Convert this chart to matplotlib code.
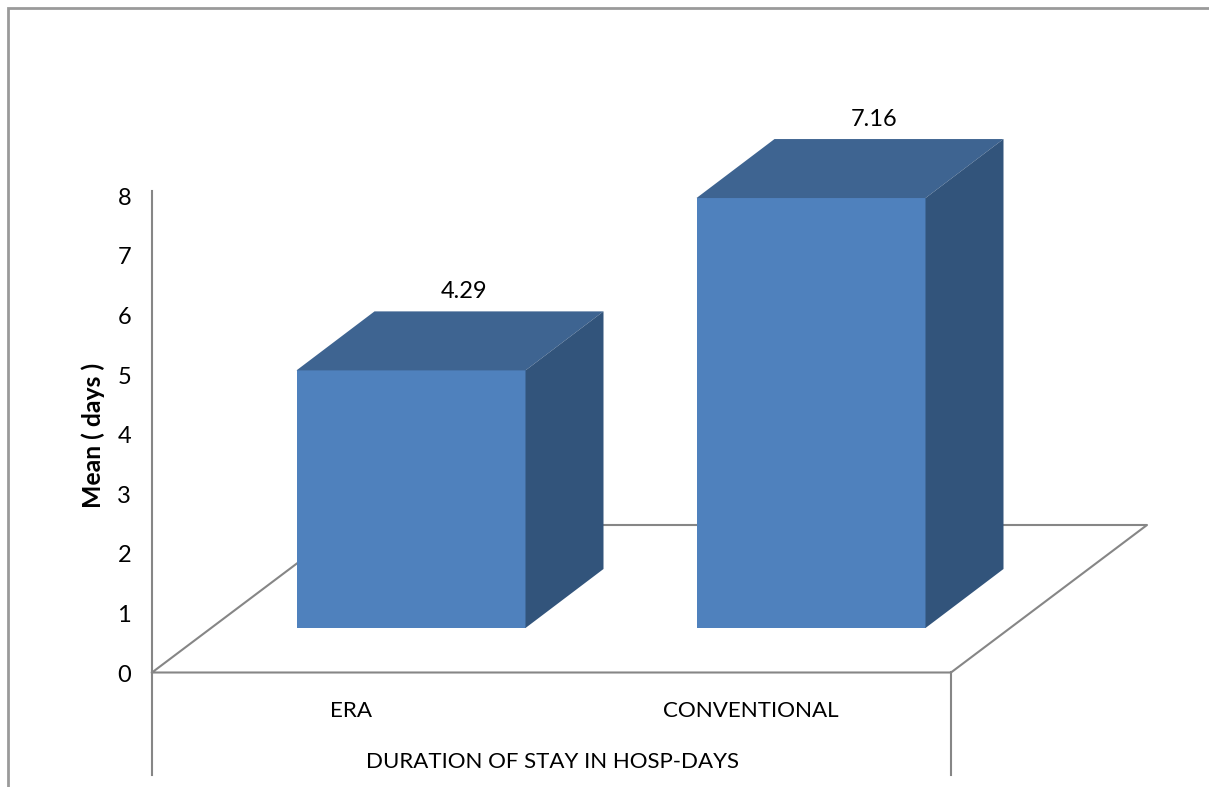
#!/usr/bin/env python3
"""
Duration of hospital stay, ERA vs conventional - pseudo 3D bars
"""

import numpy as np
import matplotlib
matplotlib.use('Agg')
import matplotlib.pyplot as plt
from matplotlib.patches import Polygon

plt.rcParams['font.family'] = ['Lato', 'DejaVu Sans']

categories = ['ERA', 'CONVENTIONAL']
means = [4.29, 7.16]
value_ticks = [0, 1, 2, 3, 4, 5, 6, 7, 8]

W, H = 1209, 787
FRONT = '#4F81BD'
TOP = '#3E6491'
SIDE = '#32547B'
LINE = '#868686'

fig = plt.figure(figsize=(W / 100, H / 100), dpi=100, facecolor='white')

# Main axes fills the figure: 1 x unit = one category step (400 px), 1 y unit = 60 px
px_x, px_y = 400.0, 60.05
x0_px, y0_px = 411.0, 672.0
ax = fig.add_axes([0, 0, 1, 1])
ax.set_xlim(-x0_px / px_x, (W - x0_px) / px_x)
ax.set_ylim((y0_px - H) / px_y, y0_px / px_y)
ax.axis('off')


def fx(p):
    return (p - x0_px) / px_x


def fy(p):
    return (y0_px - p) / px_y


# Outer frame
ax.plot([fx(8), fx(8), fx(W)], [fy(H), fy(8), fy(8)], color='#9A9A9A', lw=2.0, zorder=1, solid_joinstyle='miter')

# Floor of the 3D box and the drops below it
ax.plot([fx(152), fx(951), fx(1147), fx(348), fx(152)],
        [fy(672.5), fy(672.5), fy(525), fy(525), fy(672.5)], color=LINE, lw=1.5, zorder=1)
ax.plot([fx(152), fx(152)], [fy(672), fy(775)], color=LINE, lw=1.5, zorder=1)
ax.plot([fx(951), fx(951)], [fy(672), fy(775)], color=LINE, lw=1.5, zorder=1)

# Bars: front face plus top and side polygons
xs = np.arange(len(categories))
bar_w = 229 / px_x
base = fy(628)
dx, dy = 78 / px_x, 59 / px_y
label_shift = [53, 63]
ax.bar(xs, means, width=bar_w, bottom=base, color=FRONT, zorder=3)
for x, m, shift in zip(xs, means, label_shift):
    left, right = x - bar_w / 2, x + bar_w / 2
    top = base + m
    ax.add_patch(Polygon([(left, top), (right, top), (right + dx, top + dy), (left + dx, top + dy)],
                         closed=True, facecolor=TOP, edgecolor='none', zorder=3))
    ax.add_patch(Polygon([(right, base), (right + dx, base + dy), (right + dx, top + dy), (right, top)],
                         closed=True, facecolor=SIDE, edgecolor='none', zorder=3))
    ax.annotate(f'{m:.2f}', (x + shift / px_x, top + dy), xytext=(0, 9), textcoords='offset pixels',
                ha='center', va='bottom', fontsize=17, color='black', zorder=4)

# Category labels sit left of the bar centres, in the middle of each floor slot
for x, name in zip(xs, categories):
    ax.text(x - 0.15, fy(711), name, ha='center', va='center', fontsize=16.1, color='black')

ax.text(fx(552), fy(762), 'DURATION OF STAY IN HOSP-DAYS', ha='center', va='center', fontsize=16, color='black')
ax.text(fx(93), fy(435), 'Mean ( days )', rotation=90, ha='center', va='center', fontsize=17.8,
        fontweight='bold', color='black')

# Value axis is on its own axes, its labels run on a slightly tighter step than the bars
ax_y = fig.add_axes([152 / W, (H - 673) / H, 0.001, (673 - 191) / H])
ax_y.patch.set_alpha(0)
ax_y.set_ylim(0, (673 - 191) / 59.6)
ax_y.set_yticks(value_ticks)
ax_y.set_xticks([])
ax_y.tick_params(axis='y', length=0, pad=15, labelsize=17)
for side in ['top', 'right', 'bottom']:
    ax_y.spines[side].set_visible(False)
ax_y.spines['left'].set_color(LINE)
ax_y.spines['left'].set_linewidth(1.5)

plt.savefig('out.png', dpi=100)
plt.close()
